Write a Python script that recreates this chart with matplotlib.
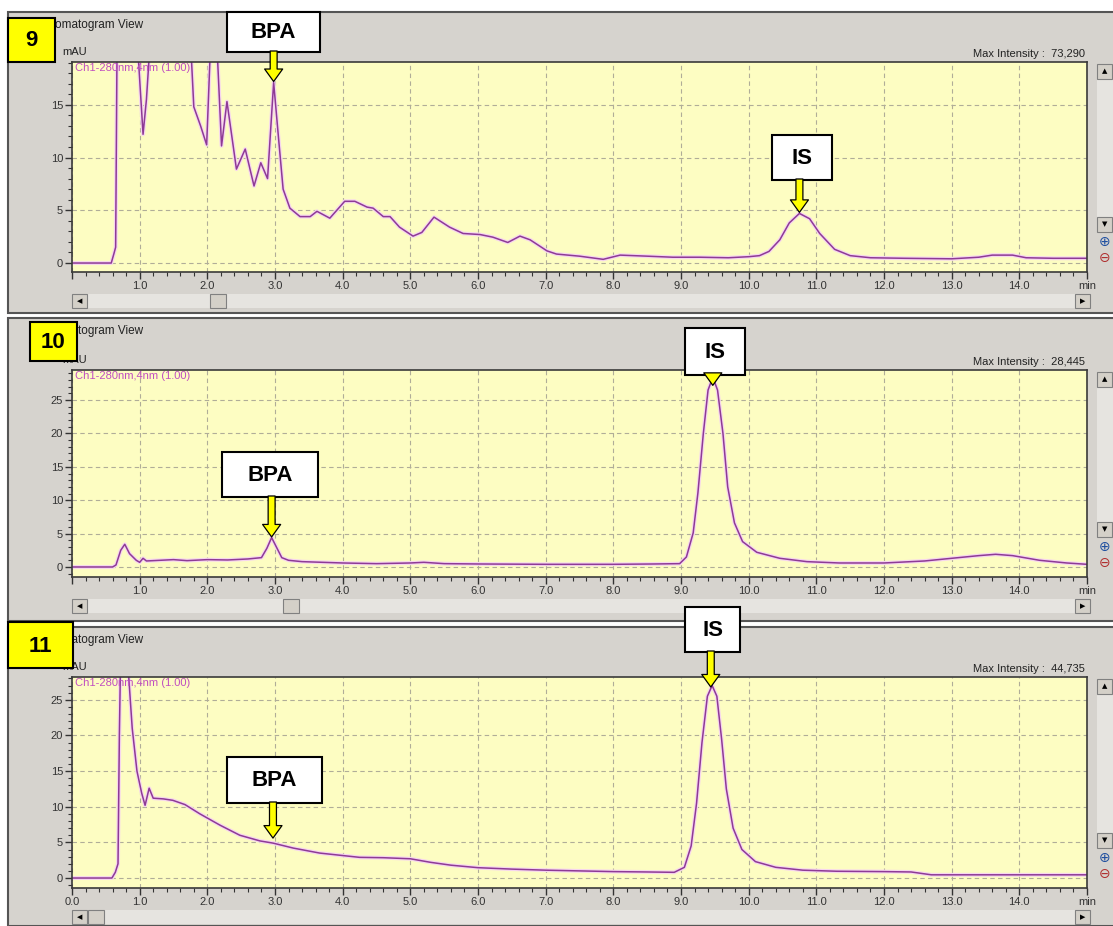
import matplotlib
matplotlib.use("Agg")
import matplotlib.pyplot as plt
from matplotlib.patches import Rectangle
from matplotlib.ticker import MultipleLocator, FixedLocator

plt.rcParams['font.family'] = ['Liberation Sans', 'DejaVu Sans']

W, H = 1113, 926

### Chromatogram traces (time in min, intensity in mAU)
t9 = [0.0, 0.58, 0.62, 0.645, 0.665, 0.72, 0.85, 0.95, 0.98, 1.05, 1.1, 1.14, 1.25, 1.45,
      1.65, 1.76, 1.80, 1.90, 1.99, 2.04, 2.1, 2.15, 2.21, 2.29, 2.43, 2.56, 2.69, 2.79,
      2.89, 2.98, 3.05, 3.12, 3.22, 3.37, 3.52, 3.62, 3.81, 4.03, 4.18, 4.36, 4.45, 4.6,
      4.7, 4.84, 5.04, 5.17, 5.35, 5.58, 5.78, 6.03, 6.22, 6.44, 6.62, 6.77, 7.02, 7.16,
      7.5, 7.85, 8.1, 8.5, 8.88, 9.28, 9.7, 10.0, 10.16, 10.3, 10.46, 10.6, 10.75, 10.9,
      11.05, 11.27, 11.5, 11.8, 12.3, 13.0, 13.4, 13.6, 13.9, 14.1, 14.5, 15.0]
v9 = [0.0, 0.0, 0.9, 1.5, 20.0, 50.0, 73.3, 35.0, 19.5, 12.2, 15.5, 19.5, 38.0, 60.0,
      42.0, 20.0, 14.8, 13.0, 11.2, 19.5, 30.0, 19.5, 11.1, 15.3, 8.9, 10.8, 7.3, 9.5,
      8.0, 17.1, 12.0, 7.0, 5.2, 4.4, 4.4, 4.9, 4.25, 5.85, 5.85, 5.3, 5.2, 4.4,
      4.4, 3.4, 2.55, 2.9, 4.35, 3.4, 2.8, 2.7, 2.45, 1.95, 2.55, 2.2, 1.15, 0.85,
      0.65, 0.35, 0.75, 0.65, 0.55, 0.55, 0.5, 0.6, 0.7, 1.1, 2.2, 3.8, 4.7, 4.2,
      2.8, 1.3, 0.7, 0.5, 0.45, 0.4, 0.55, 0.75, 0.75, 0.5, 0.45, 0.45]

t10 = [0.0, 0.6, 0.65, 0.72, 0.78, 0.85, 0.95, 1.0, 1.05, 1.1, 1.3, 1.5, 1.7, 2.0, 2.3,
       2.6, 2.8, 2.88, 2.95, 3.02, 3.1, 3.2, 3.4, 3.7, 4.0, 4.5, 5.0, 5.2, 5.5, 6.0, 7.0,
       8.0, 8.6, 8.98, 9.08, 9.18, 9.25, 9.33, 9.4, 9.47, 9.54, 9.62, 9.69, 9.79, 9.91,
       10.12, 10.46, 10.86, 11.34, 12.0, 12.6, 13.0, 13.4, 13.65, 13.9, 14.3, 14.7, 15.0]
v10 = [0.0, 0.0, 0.3, 2.5, 3.4, 2.0, 1.0, 0.7, 1.3, 0.9, 1.0, 1.1, 0.95, 1.1, 1.05,
       1.2, 1.4, 2.8, 4.4, 3.0, 1.4, 1.0, 0.8, 0.7, 0.6, 0.5, 0.6, 0.7, 0.5, 0.45, 0.4,
       0.4, 0.45, 0.5, 1.5, 5.1, 11.1, 20.0, 26.5, 28.4, 26.5, 20.0, 12.0, 6.6, 3.8,
       2.2, 1.3, 0.8, 0.6, 0.6, 0.9, 1.3, 1.7, 1.9, 1.7, 1.0, 0.6, 0.4]

t11 = [0.0, 0.59, 0.64, 0.68, 0.7, 0.73, 0.76, 0.8, 0.84, 0.89, 0.96, 1.03, 1.08, 1.14,
       1.2, 1.35, 1.49, 1.67, 1.89, 2.19, 2.48, 2.78, 2.97, 3.27, 3.66, 4.25, 4.6, 5.0,
       5.3, 5.6, 6.0, 6.5, 7.0, 7.5, 8.0, 8.5, 8.9, 9.05, 9.15, 9.23, 9.31, 9.39, 9.46,
       9.53, 9.6, 9.67, 9.77, 9.9, 10.1, 10.4, 10.8, 11.3, 12.0, 12.4, 12.7, 13.0, 15.0]
v11 = [0.0, 0.0, 0.8, 2.0, 20.0, 38.0, 44.7, 38.0, 28.0, 21.0, 15.0, 11.9, 10.2, 12.6,
       11.2, 11.1, 10.9, 10.3, 9.0, 7.4, 6.0, 5.2, 4.9, 4.2, 3.5, 2.9, 2.85, 2.7,
       2.2, 1.8, 1.45, 1.25, 1.1, 1.0, 0.9, 0.85, 0.8, 1.5, 4.5, 10.5, 19.0, 25.5, 27.0,
       25.5, 19.5, 12.5, 7.0, 4.0, 2.3, 1.5, 1.1, 0.95, 0.9, 0.85, 0.45, 0.45, 0.45]

traces = [(t9, v9), (t10, v10), (t11, v11)]
sample_ids = ['9', '10', '11']
max_intensity = ['73,290', '28,445', '44,735']
y_limits = [(-0.85, 19.05), (-1.5, 29.5), (-1.4, 28.2)]
y_ticks = [[0, 5, 10, 15], [0, 5, 10, 15, 20, 25], [0, 5, 10, 15, 20, 25]]
x_ticks = list(range(16))
show_zero = [False, False, True]

# peak labels: (text, time, level)
peak_labels = [
    [('BPA', 2.98, 17.2), ('IS', 10.75, 4.8)],
    [('BPA', 2.95, 4.5), ('IS', 9.47, 27.2)],
    [('BPA', 2.97, 5.6), ('IS', 9.44, 26.8)],
]

### layout in screen pixels (top-left origin)
plot_top = [62, 370, 677]
plot_bot = [272, 577, 888]
plot_left, plot_right = 72, 1087
win_top = [12, 318, 627]
win_bot = [313, 621, 926]
thumb_x = [210, 283, 88]
num_box = [(8, 18, 55, 62), (30, 322, 77, 361), (8, 622, 73, 668)]
label_box = [
    [(227, 12, 320, 52), (772, 135, 832, 180)],
    [(222, 452, 318, 497), (685, 328, 745, 375)],
    [(227, 757, 322, 803), (685, 607, 740, 652)],
]

LINE = '#8e3a96'
HALO = '#f6d6ee'
GREY = '#d6d3ce'
BTN = '#d4d0c8'

fig = plt.figure(figsize=(W / 100, H / 100), dpi=100, facecolor='white')

bg = fig.add_axes([0, 0, 1, 1], zorder=0)
bg.set_xlim(0, W); bg.set_ylim(H, 0); bg.axis('off')
fg = fig.add_axes([0, 0, 1, 1], zorder=20)
fg.set_xlim(0, W); fg.set_ylim(H, 0); fg.axis('off')
fg.patch.set_alpha(0)


def rect(a, x0, y0, x1, y1, **kw):
    a.add_patch(Rectangle((x0, y0), x1 - x0, y1 - y0, **kw))


def button(x0, y0, x1, y1, glyph):
    rect(bg, x0, y0, x1, y1, fc=BTN, ec='#808080', lw=0.8)
    bg.text((x0 + x1) / 2, (y0 + y1) / 2, glyph, fontsize=5, ha='center', va='center',
            color='black', family='DejaVu Sans')


for i in range(3):
    pt, pb = plot_top[i], plot_bot[i]

    # window frame
    rect(bg, 8, win_top[i], W + 2, win_bot[i], fc=GREY, ec='#555555', lw=1.5)
    bg.text(36, win_top[i] + 13, 'Chromatogram View', fontsize=8.5, va='center', color='#222222')
    bg.text(62, pt - 5, 'mAU', fontsize=8, va='bottom', color='#222222')
    bg.text(1085, pt - 3, 'Max Intensity :  ' + max_intensity[i], fontsize=8,
            ha='right', va='bottom', color='#222222')

    # horizontal scrollbar
    sy0, sy1 = pb + 22, pb + 36
    rect(bg, 72, sy0, 1090, sy1, fc='#e6e4e0', ec='none')
    button(72, sy0, 87, sy1, '◀')
    button(1075, sy0, 1090, sy1, '▶')
    rect(bg, thumb_x[i], sy0, thumb_x[i] + 16, sy1, fc=BTN, ec='#808080', lw=0.8)

    # vertical scrollbar + zoom icons
    rect(bg, 1097, pt + 2, W, pb - 40, fc='#e6e4e0', ec='none')
    button(1097, pt + 2, 1112, pt + 17, '▲')
    button(1097, pb - 55, 1112, pb - 40, '▼')
    bg.text(1105, pb - 30, '⊕', fontsize=10, ha='center', va='center', color='#2050a0',
            family='DejaVu Sans')
    bg.text(1105, pb - 14, '⊖', fontsize=10, ha='center', va='center', color='#b03030',
            family='DejaVu Sans')

    # plot area
    ax = fig.add_axes([plot_left / W, 1 - pb / H, (plot_right - plot_left) / W, (pb - pt) / H],
                      zorder=5)
    ax.set_facecolor('#fdfdc2')
    t, v = traces[i]
    ax.plot(t, v, color=HALO, lw=2.8, solid_joinstyle='round')
    ax.plot(t, v, color=LINE, lw=1.1, solid_joinstyle='round')
    ax.set_xlim(0, 15)
    ax.set_ylim(*y_limits[i])
    ax.xaxis.set_major_locator(FixedLocator(x_ticks))
    ax.xaxis.set_minor_locator(MultipleLocator(0.2))
    ax.yaxis.set_major_locator(FixedLocator(y_ticks[i]))
    ax.yaxis.set_minor_locator(MultipleLocator(1))
    xl = ['%.1f' % x for x in x_ticks]
    xl[-1] = 'min'
    if not show_zero[i]:
        xl[0] = ''
    ax.set_xticklabels(xl)
    ax.set_yticklabels([str(y) for y in y_ticks[i]])
    ax.tick_params(which='major', direction='out', length=5, width=1, labelsize=8,
                   colors='#333333', pad=1.5)
    ax.tick_params(which='minor', direction='out', length=3, width=0.8, colors='#333333')
    ax.grid(True, which='major', ls=(0, (4, 3)), color='#b0ad98', lw=0.8)
    for s in ax.spines.values():
        s.set_color('#3a3a3a')
        s.set_linewidth(1.2)
    ax.text(0.003, 0.995, 'Ch1-280nm,4nm (1.00)', transform=ax.transAxes, fontsize=8,
            color='#c04ec0', va='top', ha='left')

    # sample number
    x0, y0, x1, y1 = num_box[i]
    rect(fg, x0, y0, x1, y1, fc='#ffff00', ec='black', lw=1.5)
    fg.text((x0 + x1) / 2, (y0 + y1) / 2 + 1, sample_ids[i], fontsize=16, weight='bold',
            ha='center', va='center')

    # peak labels with vertical yellow arrows
    for (name, pk_t, pk_v), (bx0, by0, bx1, by1) in zip(peak_labels[i], label_box[i]):
        fg.annotate('', xy=(pk_t, pk_v), xycoords=ax.transData,
                    xytext=(pk_t, by1 - 1), textcoords=(ax.transData, fg.transData),
                    arrowprops=dict(arrowstyle='simple,head_length=0.9,head_width=1.3,tail_width=0.5',
                                    fc='#ffff00', ec='black', lw=0.9, mutation_scale=10,
                                    shrinkA=0, shrinkB=0))
        rect(fg, bx0, by0, bx1, by1, fc='white', ec='black', lw=1.5)
        fg.text((bx0 + bx1) / 2, (by0 + by1) / 2 + 1, name, fontsize=16, weight='bold',
                ha='center', va='center')

fig.savefig('out.png', dpi=100, facecolor='white')
